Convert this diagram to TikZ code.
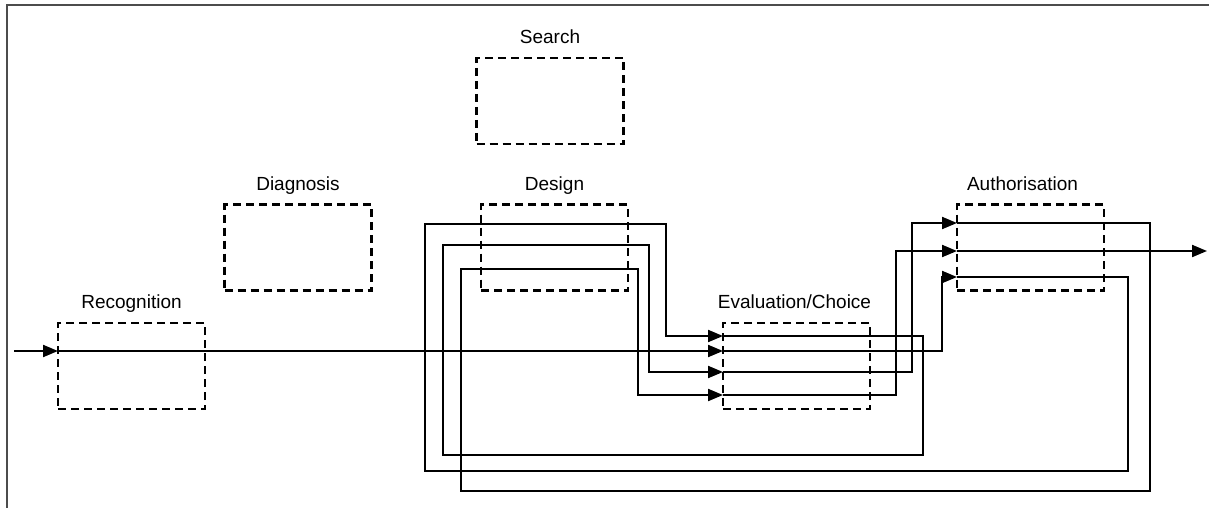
\documentclass[tikz,border=0pt]{standalone}
\usepackage{fontspec}
\setmainfont{Liberation Sans}
\usetikzlibrary{arrows.meta}
\begin{document}
\begin{tikzpicture}[x=1pt,y=-1pt,
  stagebox/.style={draw, dash pattern=on 8pt off 5pt, line width=2.1pt,
    minimum width=147pt, minimum height=86pt, inner sep=0pt},
  stagelabel/.style={anchor=base, font=\fontsize{19}{22}\selectfont, inner sep=0pt},
  flow/.style={line width=2.1pt, -{Triangle[length=15pt,width=12pt]}}]
\useasboundingbox (0,0) rectangle (1209,508);
% outer frame (top and left edges)
\draw[line width=2pt, black!70] (7,508) -- (7,5) -- (1209,5);

% stages
\node[stagebox] (rec)  at (131.5,366) {};
\node[stagebox] (diag) at (298,247.5) {};
\node[stagebox] (srch) at (550,101) {};
\node[stagebox] (des)  at (554.5,247.5) {};
\node[stagebox] (eval) at (796.5,366) {};
\node[stagebox] (auth) at (1030.5,247.5) {};

\node[stagelabel] (recl)  at ([yshift=13pt]rec.north)  {Recognition};
\node[stagelabel] (diagl) at ([yshift=13pt]diag.north) {Diagnosis};
\node[stagelabel] (srchl) at ([yshift=13pt]srch.north) {Search};
\node[stagelabel] (desl)  at ([yshift=13pt]des.north)  {Design};
\node[stagelabel] (evall) at ([xshift=-2pt,yshift=13pt]eval.north) {Evaluation/Choice};
\node[stagelabel] (authl) at ([xshift=-8pt,yshift=13pt]auth.north) {Authorisation};

% entry points on the stages
\coordinate (in)  at (14,351);
\coordinate (r0)  at (58,351);
\coordinate (ea)  at (723,336);
\coordinate (eb)  at (723,351);
\coordinate (ec)  at (723,372);
\coordinate (ed)  at (723,395);
\coordinate (aa)  at (957,223);
\coordinate (ab)  at (957,251);
\coordinate (ac)  at (957,277);
\coordinate (out) at (1207,251);

% the decision route
\draw[flow] (in) -- (r0);
\draw[flow] (r0) -- (eb);
\draw[flow] (eb) -- (942,351) -- (942,277) -- (ac);
\draw[flow] (ac) -- (1128,277) -- (1128,471) -- (425,471) -- (425,224)
            -- (666,224) -- (666,336) -- (ea);
\draw[flow] (ea) -- (923,336) -- (923,455) -- (443,455) -- (443,245)
            -- (649,245) -- (649,372) -- (ec);
\draw[flow] (ec) -- (912,372) -- (912,223) -- (aa);
\draw[flow] (aa) -- (1150,223) -- (1150,491) -- (461,491) -- (461,269)
            -- (638,269) -- (638,395) -- (ed);
\draw[flow] (ed) -- (896,395) -- (896,251) -- (ab);
\draw[flow] (ab) -- (out);
\end{tikzpicture}
\end{document}
